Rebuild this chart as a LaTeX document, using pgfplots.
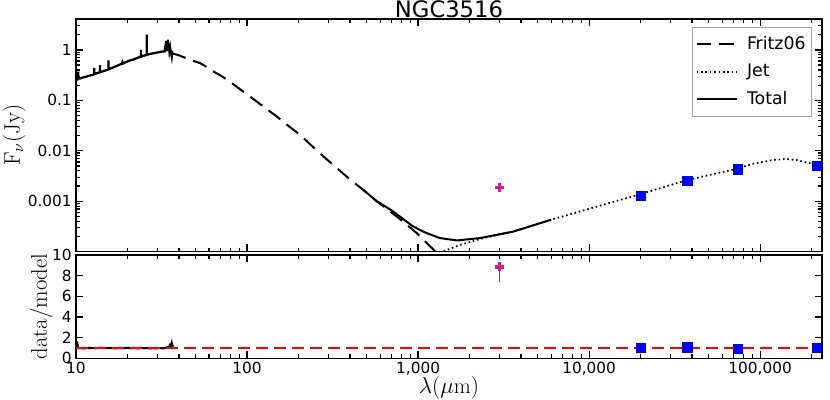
\documentclass[border=0pt]{standalone}
\usepackage{fontspec}
\newfontfamily\dejavu{DejaVu Sans}
\usepackage{pgfplots}
\pgfplotsset{compat=1.18}
\definecolor{ptmag}{RGB}{205,30,145}

\begin{document}
\begin{tikzpicture}

% ---- upper panel: SED ----
\begin{axis}[
  at={(0pt,0pt)}, anchor=north west,
  scale only axis, width=559.5pt, height=174.5pt,
  xmode=log, xmin=10, xmax=230000,
  ymode=log, ymin=1e-4, ymax=4.1,
  axis line style={line width=0.8pt},
  tick style={black, line width=0.9pt},
  major tick length=5.5pt,
  xtick={10,100,1000,10000,100000},
  xticklabels={},
  ytick={0.0001,0.001,0.01,0.1,1},
  yticklabels={,0.001,0.01,0.1,1},
  extra x ticks={20,30,40,50,60,70,80,90,200,300,400,500,600,700,800,900,
    2000,3000,4000,5000,6000,7000,8000,9000,
    20000,30000,40000,50000,60000,70000,80000,90000,200000},
  extra x tick labels={},
  extra y ticks={0.0002,0.0003,0.0004,0.0005,0.0006,0.0007,0.0008,0.0009,
    0.002,0.003,0.004,0.005,0.006,0.007,0.008,0.009,
    0.02,0.03,0.04,0.05,0.06,0.07,0.08,0.09,
    0.2,0.3,0.4,0.5,0.6,0.7,0.8,0.9,2,3,4},
  extra y tick labels={},
  extra tick style={major tick length=3pt},
  tick label style={font=\dejavu\fontsize{11.5}{13}\selectfont},
  yticklabel style={inner xsep=3pt, inner ysep=0pt},
  ylabel={$\mathrm{F}_{\nu}\mathrm{(Jy)}$},
  ylabel style={font=\fontsize{17}{20}\selectfont, at={(axis description cs:-0.0831,0.5)}, anchor=center},
  legend style={at={(1,1)}, anchor=north east, xshift=-7.5pt, yshift=-6pt,
    draw=black!35, line width=0.6pt, inner xsep=2.5pt, inner ysep=4.3pt,
    font=\dejavu\fontsize{13}{15}\selectfont, column sep=5pt, row sep=3.6pt,
    nodes={inner sep=2pt, text height=10pt, text depth=3pt}},
  legend cell align=left,
  legend image code/.code={\draw[#1] (0pt,0pt) -- (30pt,0pt);},
]
% IRS spectrum
\addplot[black, line width=1.7pt, forget plot] coordinates {
(10.0,0.25)(10.2,0.26)(10.3,0.37)(10.3,0.27)(10.5,0.27)(11.0,0.285)(11.5,0.295)
(12.0,0.31)(12.5,0.32)(12.8,0.33)(12.8,0.44)(12.8,0.33)(13.2,0.345)(13.8,0.36)
(13.8,0.50)(13.8,0.36)(14.3,0.375)(15.0,0.395)(15.5,0.41)(15.5,0.62)(15.5,0.42)
(16.0,0.43)(16.5,0.45)(17.0,0.47)(17.5,0.49)(18.0,0.51)(18.5,0.53)(18.7,0.58)
(18.9,0.54)(19.5,0.57)(20.0,0.59)(20.5,0.61)(21.0,0.63)(21.5,0.64)(22.0,0.66)
(22.5,0.68)(23.0,0.70)(23.5,0.72)(24.0,0.73)(24.0,1.0)(24.0,0.74)(24.5,0.76)
(25.0,0.77)(25.6,0.79)(25.9,0.79)(25.9,2.0)(25.9,0.80)(26.5,0.82)(27.0,0.83)
(27.5,0.84)(28.0,0.85)(28.5,0.86)(29.0,0.87)(29.5,0.88)(30.0,0.89)(30.5,0.90)
(31.0,0.91)(31.5,0.92)(32.0,0.93)(32.5,0.93)(33.0,0.94)(33.2,1.2)(33.4,0.94)
(33.6,1.5)(33.8,0.95)(34.0,1.35)(34.2,0.95)(34.5,1.6)(34.7,0.96)(35.0,1.25)
(35.2,0.95)(35.5,1.1)(35.7,0.93)(36.0,0.88)(36.3,0.75)(36.5,0.90)(36.8,0.88)
};
% Fritz06 torus model
\addplot[black, line width=1.5pt, dash pattern=on 11pt off 6pt] coordinates {
(36.3,0.86)(40,0.78)(45,0.667)(49,0.60)(53,0.55)(58,0.46)(64,0.37)(70,0.31)(76,0.26)
(90,0.171)(104,0.119)(125,0.075)(149,0.048)(175,0.031)(203,0.021)(240,0.0124)
(280,0.0077)(330,0.00475)(400,0.0027)(480,0.00166)(573,0.00100)(750,0.00050)
(980,0.000235)(1230,0.00011)(1400,0.00007)
};
\addlegendentry{Fritz06}
% Jet
\addplot[black, line width=1.3pt, dash pattern=on 1.2pt off 2.1pt] coordinates {
(1200,0.00008)(1390,0.0001)(1780,0.000138)(2300,0.000178)(3000,0.00022)(3600,0.00025)
(6000,0.00043)(9600,0.00068)(19500,0.00135)(37000,0.0026)(73000,0.0044)(90000,0.0055)
(120000,0.0066)(142000,0.0069)(165000,0.0065)(190000,0.0058)(230000,0.0052)
};
\addlegendentry{Jet}
% Total
\addplot[black, line width=1.5pt] coordinates {
(480,0.00166)(573,0.00100)(700,0.00066)(930,0.00032)(1100,0.00024)(1340,0.000186)
(1690,0.000167)(2300,0.000186)(3600,0.00025)(6000,0.00043)
};
\addlegendentry{Total}
% photometry
\addplot[only marks, mark=square*, mark size=3.4pt,
  mark options={fill=blue, draw=blue!80!black, line width=0.4pt}, forget plot,
  error bars/.cd, y dir=both, y explicit, error mark=none,
  error bar style={black, line width=0.7pt}]
coordinates {
(20000,0.00130) +- (0,0.0001)
(37500,0.0025) +- (0,0.0002)
(74000,0.0043) +- (0,0.0003)
(213000,0.0051) +- (0,0.0006)
};
\addplot[only marks, mark=+, mark size=3.4pt, forget plot,
  mark options={ptmag, line width=2.6pt}] coordinates {(3000,0.00188)};
\end{axis}
\node[font=\dejavu\fontsize{17}{20}\selectfont, anchor=base, inner sep=0pt] at (279.75pt,1pt) {NGC3516};

% ---- lower panel: residuals ----
\begin{axis}[
  at={(0pt,-177pt)}, anchor=north west,
  scale only axis, width=559.5pt, height=77.5pt,
  xmode=log, xmin=10, xmax=230000,
  ymin=0, ymax=10,
  axis line style={line width=0.8pt},
  tick style={black, line width=0.9pt},
  major tick length=5.5pt,
  xtick={10,100,1000,10000,100000},
  xticklabels={10,100,{1,000},{10,000},{100,000}},
  extra x ticks={20,30,40,50,60,70,80,90,200,300,400,500,600,700,800,900,
    2000,3000,4000,5000,6000,7000,8000,9000,
    20000,30000,40000,50000,60000,70000,80000,90000,200000},
  extra x tick labels={},
  extra tick style={major tick length=3pt},
  ytick={0,2,4,6,8,10}, yticklabels={0,2,4,6,8,10},
  tick label style={font=\dejavu\fontsize{11.5}{13}\selectfont},
  yticklabel style={inner xsep=3pt, inner ysep=0pt},
  xticklabel style={inner ysep=0pt, inner xsep=0pt, yshift=-3pt},
  ylabel={$\mathrm{data/model}$},
  ylabel style={font=\fontsize{17}{20}\selectfont, at={(axis description cs:-0.0469,0.5)}, anchor=center},
  xlabel={$\lambda(\mu\mathrm{m})$},
  xlabel style={font=\fontsize{16.5}{19}\selectfont, inner sep=0pt, at={(axis description cs:0.5,0)}, anchor=center, yshift=-22pt},
]
\addplot[black, line width=1.6pt] coordinates {
(10.0,1.0)(10.2,1.35)(10.3,1.0)(11,0.97)(12,1.0)(13,0.98)(14,1.02)(15,0.99)(16,1.0)
(17,0.97)(18,1.0)(19,0.98)(20,1.02)(21,0.98)(22,1.0)(23,0.97)(24,1.0)(25,0.98)
(26,1.0)(27,0.96)(28,0.99)(29,0.97)(30,0.98)(31,1.0)(32,0.97)(33,1.0)(34,1.05)
(35,1.1)(35.5,1.3)(36,1.2)(36.3,1.45)(36.6,1.15)(37,1.3)
};
\addplot[red, line width=1.8pt, dash pattern=on 9pt off 4.5pt] coordinates {(10,1)(230000,1)};
\addplot[only marks, mark=square*, mark size=3.4pt,
  mark options={fill=blue, draw=blue!80!black, line width=0.4pt},
  error bars/.cd, y dir=both, y explicit, error mark=none,
  error bar style={black, line width=0.7pt}]
coordinates {
(20000,1.0) +- (0,0.12)
(37500,1.07) +- (0,0.12)
(74000,0.97) +- (0,0.12)
(213000,1.0) +- (0,0.18)
};
\addplot[only marks, mark=+, mark size=3.4pt,
  mark options={ptmag, line width=2.6pt},
  error bars/.cd, y dir=minus, y explicit, error mark=none,
  error bar style={black!70, line width=0.7pt}]
coordinates {(3000,8.85) +- (0,1.45)};
\end{axis}

\pgfresetboundingbox
\useasboundingbox (-57pt,14.25pt) rectangle (565.5pt,-285pt);
\end{tikzpicture}
\end{document}
